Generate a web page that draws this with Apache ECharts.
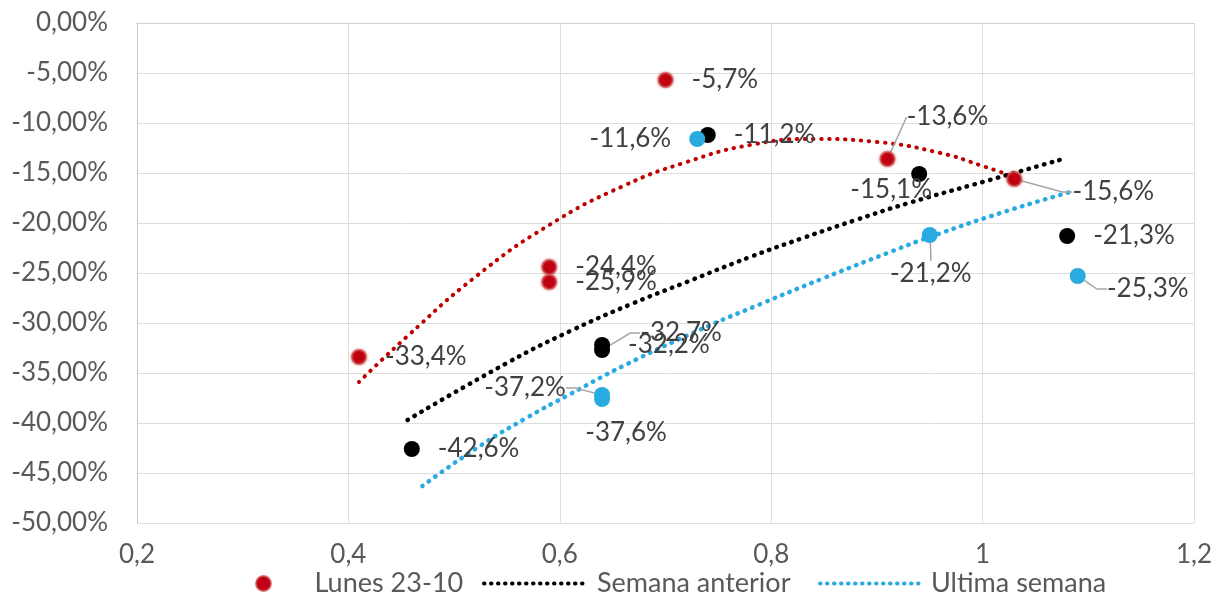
<!DOCTYPE html>
<html>
<head>
<meta charset="utf-8">
<script src="https://cdn.jsdelivr.net/npm/echarts@6/dist/echarts.min.js"></script>
<style>
  html, body { margin: 0; padding: 0; background: #ffffff; }
  #chart { width: 1221px; height: 602px; }
</style>
</head>
<body>
<div id="chart"></div>
<script>
// Axis tick labels (Spanish decimal comma)
const xTickValues = [0.2, 0.4, 0.6, 0.8, 1.0, 1.2];
const xTickLabels = ['0,2', '0,4', '0,6', '0,8', '1', '1,2'];
const yTickValues = [0, -5, -10, -15, -20, -25, -30, -35, -40, -45, -50];
const yTickLabels = ['0,00%', '-5,00%', '-10,00%', '-15,00%', '-20,00%', '-25,00%',
                     '-30,00%', '-35,00%', '-40,00%', '-45,00%', '-50,00%'];

// Series names
const seriesNames = ['Lunes 23-10', 'Semana anterior', 'Ultima semana'];

// Lunes 23-10 points (x, variation %)
const lunesX = [0.41, 0.59, 0.59, 0.70, 0.91, 1.03];
const lunesY = [-33.4, -24.4, -25.9, -5.7, -13.6, -15.6];

// Semana anterior points
const anteriorX = [0.46, 0.64, 0.64, 0.74, 0.94, 1.08];
const anteriorY = [-42.6, -32.2, -32.7, -11.2, -15.1, -21.3];

// Ultima semana points
const ultimaX = [0.64, 0.64, 0.73, 0.95, 1.09];
const ultimaY = [-37.2, -37.6, -11.6, -21.2, -25.3];

// Trend lines
const tendLunesX = [0.41, 0.455, 0.52, 0.59, 0.66, 0.72, 0.78, 0.84, 0.90, 0.96, 1.00, 1.03];
const tendLunesY = [-35.9, -31.4, -25.4, -20.2, -16.3, -13.9, -12.2, -11.6, -11.9, -13.0, -14.3, -15.4];

const tendAnteriorX = [0.456, 0.55, 0.61, 0.67, 0.72, 0.78, 0.83, 0.88, 0.93, 1.00, 1.076];
const tendAnteriorY = [-39.7, -34.0, -30.8, -28.0, -25.9, -23.4, -21.5, -19.7, -18.0, -15.9, -13.6];

const tendUltimaX = [0.47, 0.52, 0.57, 0.61, 0.66, 0.73, 0.79, 0.85, 0.91, 0.95, 1.02, 1.086];
const tendUltimaY = [-46.3, -42.6, -39.4, -37.1, -34.3, -30.8, -28.1, -25.5, -23.0, -21.4, -18.9, -16.8];

// Label placement per point: 'right' / 'left' or a centre offset from the marker
const lunesPlace = [
  { pos: 'right' }, { pos: 'right' }, { pos: 'right' }, { pos: 'right' },
  { dx: 60, dy: -42, line: true, elbow: 0 },
  { dx: 99, dy: 13, line: true }
];
const anteriorPlace = [
  { pos: 'right' }, { pos: 'right' },
  { dx: 79, dy: -17, line: true },
  { pos: 'right' },
  { dx: -28, dy: 16 },
  { pos: 'right' }
];
const ultimaPlace = [
  { dx: -77, dy: -7, line: true },
  { dx: 24, dy: 34 },
  { pos: 'left' },
  { dx: 1, dy: 39, line: true },
  { dx: 70, dy: 13, line: true }
];

const FONT = 'Lato';
const TEXT = '#595959';
const LABEL = '#404040';
const RED = '#c00000';
const BLACK = '#000000';
const CYAN = '#29abe2';

function pct(v) {
  return v.toFixed(1).replace('.', ',') + '%';
}

function points(xs, ys, places) {
  return xs.map(function (x, i) {
    const p = places[i];
    const item = { value: [x, ys[i]] };
    item.label = { position: p.pos ? p.pos : 'inside' };
    if (p.line) {
      item.labelLine = { show: true };
      if (p.elbow !== undefined) item.labelLine.length2 = p.elbow;
    }
    return item;
  });
}

function layoutFor(places) {
  return function (params) {
    const p = places[params.dataIndex];
    if (p.pos) return {};
    return { dx: p.dx, dy: p.dy };
  };
}

function pairs(xs, ys) {
  return xs.map(function (x, i) { return [x, ys[i]]; });
}

const labelBase = {
  show: true,
  distance: 18,
  color: LABEL,
  fontFamily: FONT,
  fontSize: 26,
  formatter: function (p) { return pct(p.value[1]); }
};

const labelLineBase = {
  show: false,
  length2: 10,
  lineStyle: { color: '#a6a6a6', width: 1.5 }
};

function dotted(color, width) {
  return { color: color, width: width, type: [0.5, 7.5], cap: 'round' };
}

// One legend block per entry so each can be placed on its own
function legendBlock(name, left, width) {
  return {
    data: [name],
    left: left,
    top: 570,
    itemWidth: width,
    itemHeight: 15,
    padding: 0,
    textStyle: { color: TEXT, fontFamily: FONT, fontSize: 27, padding: [0, 0, 0, 4] }
  };
}

const chart = echarts.init(document.getElementById('chart'), null, { renderer: 'canvas' });

chart.setOption({
  animation: false,
  backgroundColor: '#ffffff',
  textStyle: { fontFamily: FONT },
  grid: { left: 137, right: 27, top: 23, bottom: 79 },
  xAxis: {
    type: 'value',
    min: 0.2,
    max: 1.2,
    interval: 0.2,
    axisLine: { show: true, lineStyle: { color: '#d0d0d0', width: 1 } },
    axisTick: { show: false },
    splitLine: { show: true, lineStyle: { color: '#dedede', width: 1 } },
    axisLabel: {
      margin: 19,
      color: TEXT,
      fontFamily: FONT,
      fontSize: 26,
      formatter: function (v) {
        const i = xTickValues.findIndex(function (t) { return Math.abs(t - v) < 1e-6; });
        return i >= 0 ? xTickLabels[i] : '';
      }
    }
  },
  yAxis: {
    type: 'value',
    min: -50,
    max: 0,
    interval: 5,
    axisLine: { show: true, lineStyle: { color: '#c8c8c8', width: 1 } },
    axisTick: { show: false },
    splitLine: { show: true, lineStyle: { color: '#dedede', width: 1 } },
    axisLabel: {
      margin: 29,
      color: TEXT,
      fontFamily: FONT,
      fontSize: 26,
      formatter: function (v) {
        const i = yTickValues.findIndex(function (t) { return Math.abs(t - v) < 1e-6; });
        return i >= 0 ? yTickLabels[i] : '';
      }
    }
  },
  legend: [
    legendBlock({ name: seriesNames[0], icon: 'circle' }, 255, 84),
    legendBlock({
      name: seriesNames[1],
      itemStyle: { color: 'rgba(0,0,0,0)', borderWidth: 0, opacity: 0 },
      lineStyle: { type: [0.5, 6.5], width: 4 }
    }, 482, 104),
    legendBlock({
      name: seriesNames[2],
      itemStyle: { color: 'rgba(0,0,0,0)', borderWidth: 0, opacity: 0 },
      lineStyle: { type: [0.5, 6.5], width: 4 }
    }, 818, 102)
  ],
  series: [
    {
      name: 'Tendencia Lunes 23-10',
      type: 'line',
      data: pairs(tendLunesX, tendLunesY),
      smooth: true,
      symbol: 'none',
      color: RED,
      lineStyle: dotted(RED, 4),
      z: 3,
      silent: true
    },
    {
      name: seriesNames[1],
      type: 'line',
      data: pairs(tendAnteriorX, tendAnteriorY),
      smooth: true,
      symbol: 'none',
      color: BLACK,
      lineStyle: dotted(BLACK, 4.5),
      z: 3,
      silent: true
    },
    {
      name: seriesNames[2],
      type: 'line',
      data: pairs(tendUltimaX, tendUltimaY),
      smooth: true,
      symbol: 'none',
      color: CYAN,
      lineStyle: dotted(CYAN, 4.5),
      z: 3,
      silent: true
    },
    {
      name: seriesNames[0],
      type: 'scatter',
      data: points(lunesX, lunesY, lunesPlace),
      symbol: 'circle',
      symbolSize: 14,
      itemStyle: {
        color: '#c00012',
        opacity: 1,
        borderColor: 'rgba(205, 80, 80, 0.75)',
        borderWidth: 2,
        shadowBlur: 3,
        shadowColor: 'rgba(192, 0, 0, 0.5)'
      },
      label: labelBase,
      labelLine: labelLineBase,
      labelLayout: layoutFor(lunesPlace),
      z: 4
    },
    {
      name: 'Semana anterior (datos)',
      type: 'scatter',
      data: points(anteriorX, anteriorY, anteriorPlace),
      symbol: 'circle',
      symbolSize: 16,
      itemStyle: { color: BLACK, opacity: 1 },
      label: labelBase,
      labelLine: labelLineBase,
      labelLayout: layoutFor(anteriorPlace),
      z: 4
    },
    {
      name: 'Ultima semana (datos)',
      type: 'scatter',
      data: points(ultimaX, ultimaY, ultimaPlace),
      symbol: 'circle',
      symbolSize: 16,
      itemStyle: { color: CYAN, opacity: 1 },
      label: labelBase,
      labelLine: labelLineBase,
      labelLayout: layoutFor(ultimaPlace),
      z: 4
    }
  ]
});
</script>
</body>
</html>
